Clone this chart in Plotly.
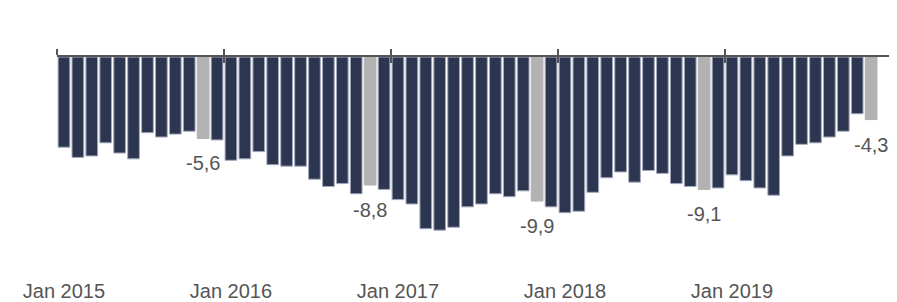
import plotly.graph_objects as go

months = [f"{m} {y}" for y in range(2015, 2020) for m in
          ["Jan", "Feb", "Mar", "Apr", "May", "Jun", "Jul", "Aug", "Sep", "Oct", "Nov", "Dec"]][:59]

values_2015 = [-6.2, -6.9, -6.8, -5.9, -6.6, -7.0, -5.2, -5.5, -5.3, -5.1, -5.6, -5.7]
values_2016 = [-7.1, -7.0, -6.5, -7.4, -7.5, -7.5, -8.4, -8.9, -8.7, -9.4, -8.8, -9.1]
values_2017 = [-9.8, -10.1, -11.8, -11.9, -11.7, -10.3, -10.1, -9.4, -9.6, -9.2, -9.9, -10.3]
values_2018 = [-10.7, -10.6, -9.3, -8.3, -7.9, -8.6, -7.8, -8.0, -8.7, -8.9, -9.1, -9.0]
values_2019 = [-8.1, -8.5, -9.0, -9.5, -6.8, -6.0, -5.9, -5.5, -5.1, -3.9, -4.3]

values = values_2015 + values_2016 + values_2017 + values_2018 + values_2019
highlight_month = "Nov"

tick_labels = ["Jan 2015", "Jan 2016", "Jan 2017", "Jan 2018", "Jan 2019"]

DARK = "#2d3650"
GREY = "#b2b2b2"
TEXT = "#555555"
FONT = "Liberation Sans, Arial, sans-serif"

idx = list(range(len(values)))
is_hl = [m.startswith(highlight_month) for m in months]
colors = [GREY if h else DARK for h in is_hl]
line_colors = [GREY if h else "#a3a8bb" for h in is_hl]

fig = go.Figure()
fig.add_trace(go.Bar(
    x=idx, y=values,
    marker=dict(color=colors, line=dict(color=line_colors, width=1)),
    hovertext=months, hoverinfo="text+y",
    showlegend=False,
))
# invisible traces to activate the overlay axes
fig.add_trace(go.Scatter(x=[idx[0]], y=[0], xaxis="x2", mode="markers",
                         marker=dict(opacity=0), showlegend=False, hoverinfo="skip"))
fig.add_trace(go.Scatter(x=[idx[0]], y=[0], xaxis="x3", mode="markers",
                         marker=dict(opacity=0), showlegend=False, hoverinfo="skip"))

for i, v in enumerate(values):
    if is_hl[i]:
        fig.add_annotation(x=i, y=v, text=f"{v:.1f}".replace(".", ","),
                           showarrow=False, yanchor="top", yshift=-12,
                           font=dict(family=FONT, size=20, color=TEXT))

n_slots = 60
xr = [-0.5, n_slots - 0.5]
label_vals = [months.index(t) for t in tick_labels]
boundary_vals = [v - 0.5 for v in label_vals] + [n_slots - 0.5]

# the page body has an 8px default margin, so the figure is sized/offset to compensate
fig.update_layout(
    width=889, height=294,
    margin=dict(l=49, r=5, t=49, b=25, autoexpand=False),
    paper_bgcolor="white", plot_bgcolor="white",
    bargap=0.16,
    font=dict(family=FONT, color=TEXT),
    xaxis=dict(range=xr, tickmode="array", tickvals=label_vals, ticktext=tick_labels,
               showline=False, ticks="", showgrid=False, zeroline=False,
               tickfont=dict(size=20, color=TEXT, family=FONT), automargin=False),
    xaxis2=dict(range=xr, overlaying="x", side="top", tickmode="array",
                tickvals=boundary_vals, showticklabels=False, showline=True,
                linecolor="#555555", linewidth=2, ticks="outside", ticklen=6,
                tickwidth=2, tickcolor="#555555", showgrid=False, zeroline=False,
                automargin=False),
    xaxis3=dict(range=xr, overlaying="x", side="top", tickmode="array",
                tickvals=boundary_vals, showticklabels=False, showline=False,
                ticks="inside", ticklen=6, tickwidth=2, tickcolor="#555555",
                showgrid=False, zeroline=False, automargin=False),
    yaxis=dict(range=[-15.12, 0], visible=False, showgrid=False, zeroline=False),
)

fig.write_html("out.html")
